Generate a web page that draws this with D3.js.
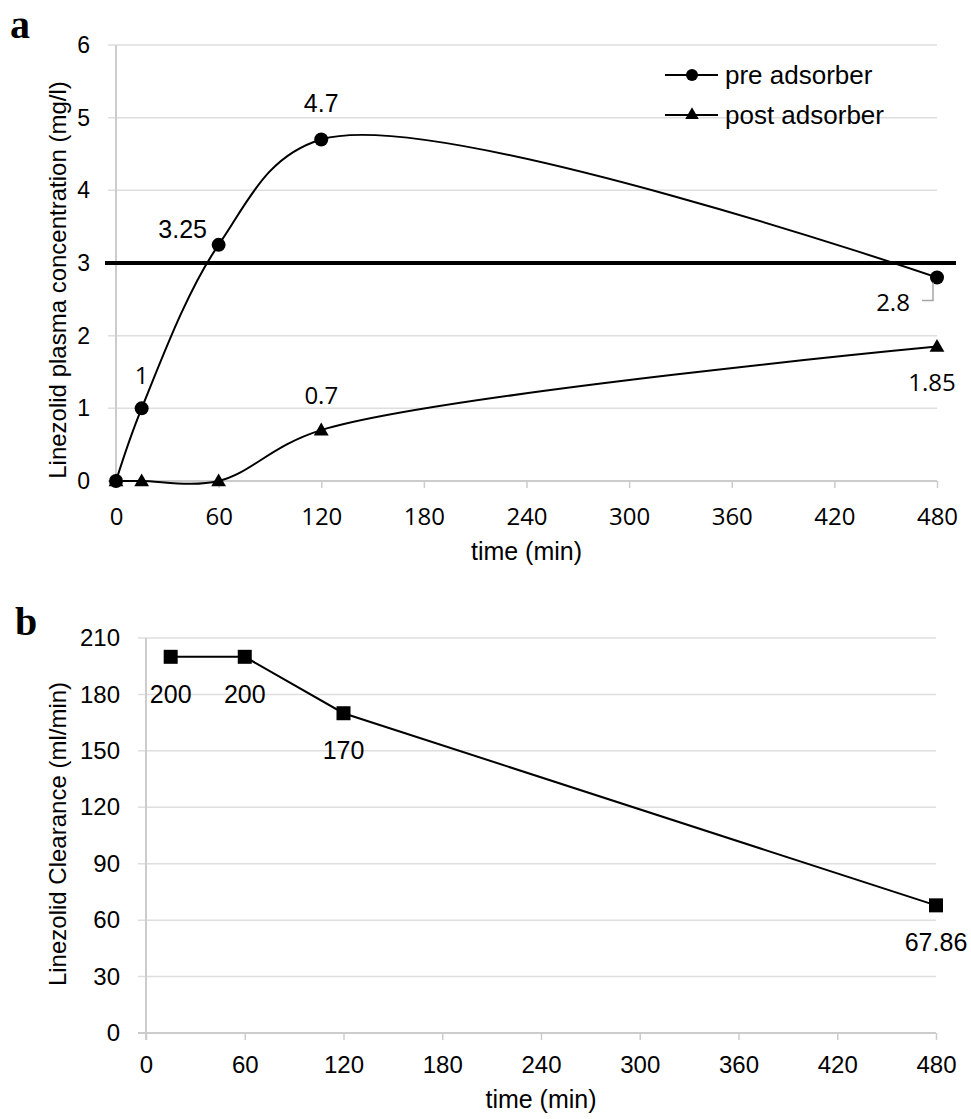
<!DOCTYPE html>
<html>
<head>
<meta charset="utf-8">
<script src="https://cdn.jsdelivr.net/npm/d3@7"></script>
<style>
  body { margin: 0; background: #fff; }
  text { font-family: "Liberation Sans", Arial, sans-serif; fill: #000; }
  .cal { font-family: "Open Sans", "Liberation Sans", sans-serif; }
</style>
</head>
<body>
<svg id="chart" width="971" height="1119"></svg>
<script>
// panel a data
var timesA = [0, 15, 60, 120, 480],
    preAdsorber = [0, 1, 3.25, 4.7, 2.8],
    postAdsorber = [0, 0, 0, 0.7, 1.85],
    threshold = 3,
    yTicksA = [0, 1, 2, 3, 4, 5, 6],
    xTicks = [0, 60, 120, 180, 240, 300, 360, 420, 480];

// panel b data
var timesB = [15, 60, 120, 480],
    clearance = [200, 200, 170, 67.86],
    yTicksB = [0, 30, 60, 90, 120, 150, 180, 210];

var svg = d3.select("#chart");
svg.append("rect").attr("width", 971).attr("height", 1119).attr("fill", "#fff");

var gridColor = "#dedede", axisColor = "#cccccc";

//scales
var xA = d3.scaleLinear().domain([0, 480]).range([116, 937]),
    yA = d3.scaleLinear().domain([0, 6]).range([481, 45]),
    xB = d3.scaleLinear().domain([0, 480]).range([146, 936]),
    yB = d3.scaleLinear().domain([0, 210]).range([1033, 638]);

function drawFrame(x, y, yTicks, gridLeft, labelRight, xFont, xSize, xLabelY, ySize) {
  var g = svg.append("g");
  // horizontal gridlines
  g.selectAll("line.grid").data(yTicks.filter(function(d) { return d !== 0; }))
    .enter().append("line")
    .attr("x1", gridLeft).attr("x2", x.range()[1])
    .attr("y1", function(d) { return y(d); }).attr("y2", function(d) { return y(d); })
    .attr("stroke", gridColor).attr("stroke-width", 1.5);
  // y axis line
  g.append("line")
    .attr("x1", x(0)).attr("x2", x(0))
    .attr("y1", y.range()[1]).attr("y2", y.range()[0] + 7)
    .attr("stroke", axisColor).attr("stroke-width", 2);
  // x axis with ticks
  var xAxis = g.append("g")
    .attr("transform", "translate(0," + y(0) + ")")
    .call(d3.axisBottom(x).tickValues(xTicks).tickSize(7).tickSizeOuter(0));
  xAxis.select(".domain").remove();
  xAxis.insert("line", ":first-child")
    .attr("x1", gridLeft).attr("x2", x.range()[1])
    .attr("stroke", axisColor).attr("stroke-width", 2);
  xAxis.selectAll(".tick line").attr("stroke", axisColor).attr("stroke-width", 1.5);
  xAxis.selectAll(".tick text")
    .attr("class", xFont)
    .style("font-size", xSize + "px")
    .attr("y", xLabelY)
    .attr("dy", "0.35em");
  // y labels
  var yAxis = g.append("g")
    .attr("transform", "translate(" + labelRight + ",0)")
    .call(d3.axisLeft(y).tickValues(yTicks).tickFormat(d3.format("d")).tickSize(0).tickPadding(0));
  yAxis.select(".domain").remove();
  yAxis.selectAll(".tick text").style("font-size", ySize + "px");
}

// ---------- panel a ----------
drawFrame(xA, yA, yTicksA, 108, 90, "cal", 24, 36, 23);

svg.append("text").attr("x", 10).attr("y", 38)
  .style("font-family", "'Liberation Serif', serif").style("font-weight", "bold").style("font-size", "40px")
  .text("a");

svg.append("text")
  .attr("transform", "translate(66,280) rotate(-90)")
  .attr("text-anchor", "middle").style("font-size", "24px")
  .text("Linezolid plasma concentration (mg/l)");

svg.append("text").attr("x", (xA(0) + xA(480)) / 2).attr("y", 560)
  .attr("text-anchor", "middle").style("font-size", "25px")
  .text("time (min)");

var smooth = d3.line().curve(d3.curveCatmullRom.alpha(0.5))
  .x(function(d) { return xA(d[0]); })
  .y(function(d) { return yA(d[1]); });

var preData = d3.zip(timesA, preAdsorber),
    postData = d3.zip(timesA, postAdsorber);

svg.append("path").datum(postData).attr("d", smooth)
  .attr("fill", "none").attr("stroke", "#000").attr("stroke-width", 2);
svg.append("path").datum(preData).attr("d", smooth)
  .attr("fill", "none").attr("stroke", "#000").attr("stroke-width", 2);

// threshold line
svg.append("line")
  .attr("x1", 105).attr("x2", 956)
  .attr("y1", yA(threshold)).attr("y2", yA(threshold))
  .attr("stroke", "#000").attr("stroke-width", 4);

var tri = d3.symbol().type(d3.symbolTriangle).size(95);

svg.selectAll("path.tri").data(postData).enter().append("path")
  .attr("class", "tri")
  .attr("d", tri)
  .attr("transform", function(d) { return "translate(" + xA(d[0]) + "," + (yA(d[1]) + 1) + ")"; })
  .attr("fill", "#000");

svg.selectAll("circle.pre").data(preData).enter().append("circle")
  .attr("class", "pre")
  .attr("cx", function(d) { return xA(d[0]); })
  .attr("cy", function(d) { return yA(d[1]); })
  .attr("r", 7).attr("fill", "#000");

// data labels panel a
var preLabelPos = [null, [0, -33, "cal"], [-36, -16, ""], [0, -36, ""], [-44, 25, "cal"]];
preData.forEach(function(d, i) {
  var p = preLabelPos[i];
  if (!p) return;
  svg.append("text").attr("class", p[2])
    .attr("x", xA(d[0]) + p[0]).attr("y", yA(d[1]) + p[1])
    .attr("dy", "0.35em").attr("text-anchor", "middle")
    .style("font-size", p[2] ? "24px" : "25px")
    .text(d[1]);
});
var postLabelPos = [null, null, null, [0, -35], [-5, 36]];
postData.forEach(function(d, i) {
  var p = postLabelPos[i];
  if (!p) return;
  svg.append("text").attr("class", "cal")
    .attr("x", xA(d[0]) + p[0]).attr("y", yA(d[1]) + p[1])
    .attr("dy", "0.35em").attr("text-anchor", "middle").style("font-size", "24px")
    .text(d[1]);
});

// leader line for 2.8
var last = preData[preData.length - 1];
svg.append("polyline")
  .attr("points", [[xA(last[0]) - 15, yA(last[1]) + 23], [xA(last[0]) - 4, yA(last[1]) + 23], [xA(last[0]) - 4, yA(last[1]) + 5]].join(" "))
  .attr("fill", "none").attr("stroke", "#a6a6a6").attr("stroke-width", 1.5);

// legend
var legend = svg.append("g").attr("transform", "translate(665,75)");
["pre adsorber", "post adsorber"].forEach(function(name, i) {
  var g = legend.append("g").attr("transform", "translate(0," + i * 40 + ")");
  g.append("line").attr("x1", 0).attr("x2", 53).attr("stroke", "#000").attr("stroke-width", 2);
  if (i === 0) g.append("circle").attr("cx", 27).attr("r", 6).attr("fill", "#000");
  else g.append("path").attr("d", d3.symbol().type(d3.symbolTriangle).size(80)).attr("transform", "translate(27,0)").attr("fill", "#000");
  g.append("text").attr("x", 60).attr("dy", "0.35em").style("font-size", "26px").text(name);
});

// ---------- panel b ----------
drawFrame(xB, yB, yTicksB, 138, 120, "", 24, 32, 24);

svg.append("text").attr("x", 15).attr("y", 635)
  .style("font-family", "'Liberation Serif', serif").style("font-weight", "bold").style("font-size", "40px")
  .text("b");

svg.append("text")
  .attr("transform", "translate(66,834) rotate(-90)")
  .attr("text-anchor", "middle").style("font-size", "24px")
  .text("Linezolid Clearance (ml/min)");

svg.append("text").attr("x", (xB(0) + xB(480)) / 2).attr("y", 1108)
  .attr("text-anchor", "middle").style("font-size", "25px")
  .text("time (min)");

var clData = d3.zip(timesB, clearance);
var straight = d3.line()
  .x(function(d) { return xB(d[0]); })
  .y(function(d) { return yB(d[1]); });

svg.append("path").datum(clData).attr("d", straight)
  .attr("fill", "none").attr("stroke", "#000").attr("stroke-width", 2);

svg.selectAll("rect.sq").data(clData).enter().append("rect")
  .attr("class", "sq")
  .attr("x", function(d) { return xB(d[0]) - 7; })
  .attr("y", function(d) { return yB(d[1]) - 7; })
  .attr("width", 14).attr("height", 14).attr("fill", "#000");

svg.selectAll("text.clab").data(clData).enter().append("text")
  .attr("class", "clab")
  .attr("x", function(d) { return xB(d[0]); })
  .attr("y", function(d) { return yB(d[1]) + 37; })
  .attr("dy", "0.35em").attr("text-anchor", "middle").style("font-size", "25px")
  .text(function(d) { return d[1]; });
</script>
</body>
</html>
